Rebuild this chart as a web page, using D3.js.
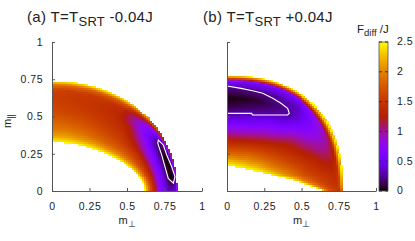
<!DOCTYPE html>
<meta charset="utf-8">
<html>
<head>
<title>F_diff maps</title>
<script src="https://cdnjs.cloudflare.com/ajax/libs/d3/7.8.5/d3.min.js"></script>
<style>
  body { margin: 0; background: #fff; }
  text { font-family: "Liberation Sans", Arial, sans-serif; fill: #222; }
</style>
</head>
<body>
<svg width="415" height="241"></svg>
<script>
var axisTicks = [0, 0.25, 0.5, 0.75, 1];
var cbTicks = [0, 0.5, 1, 1.5, 2, 2.5];

// edges of the coloured band: [half axis along m_perp, half axis along m_par, exponent]
var outerA = [0.835, 0.74, 2.1], innerA = [0.62, 0.331, 1.8];
var outerB = [0.775, 0.775, 2.4], innerB = [0.65, 0.175, 1.15];

// F_diff, rows = angle from the m_perp axis (deg),
// columns = relative depth across the band (0 inner edge, 1 outer edge)
var tNodes = [0, 0.1, 0.2, 0.35, 0.5, 0.65, 0.75, 0.85, 0.93, 1];

var phiA = [0, 6, 12, 18, 24, 30, 40, 50, 60, 75, 90];
var fA = [
  [2.5, 2.0, 1.6, 1.15, 0.7, 0.45, 0.32, 0.35, 0.4, 0.8],
  [2.5, 2.0, 1.6, 1.15, 0.7, 0.4, 0.16, 0.0, 0.12, 0.9],
  [2.5, 2.05, 1.65, 1.25, 0.8, 0.42, 0.16, 0.0, 0.1, 1.0],
  [2.5, 2.05, 1.7, 1.35, 0.9, 0.5, 0.22, 0.02, 0.15, 1.2],
  [2.5, 2.05, 1.75, 1.45, 1.05, 0.62, 0.36, 0.15, 0.28, 1.4],
  [2.5, 2.05, 1.8, 1.5, 1.2, 0.85, 0.6, 0.5, 0.7, 1.8],
  [2.5, 2.05, 1.8, 1.6, 1.45, 1.25, 1.0, 0.95, 1.3, 2.2],
  [2.5, 2.1, 1.85, 1.65, 1.5, 1.4, 1.35, 1.4, 1.7, 2.4],
  [2.5, 2.1, 1.9, 1.7, 1.55, 1.45, 1.45, 1.5, 1.8, 2.5],
  [2.5, 2.15, 1.95, 1.75, 1.6, 1.52, 1.5, 1.55, 1.85, 2.5],
  [2.5, 2.15, 1.95, 1.8, 1.65, 1.58, 1.55, 1.6, 1.9, 2.5]
];

var phiB = [0, 10, 20, 30, 40, 50, 60, 70, 80, 90];
var fB = [
  [2.5, 2.15, 1.95, 1.75, 1.6, 1.55, 1.5, 1.5, 1.75, 2.5],
  [2.5, 2.15, 1.9, 1.7, 1.55, 1.45, 1.4, 1.35, 1.5, 2.5],
  [2.5, 2.1, 1.9, 1.65, 1.45, 1.3, 1.15, 1.1, 1.25, 2.5],
  [2.5, 2.1, 1.85, 1.55, 1.3, 1.05, 0.9, 0.85, 1.0, 2.5],
  [2.5, 2.1, 1.8, 1.45, 1.15, 0.8, 0.6, 0.6, 0.8, 2.5],
  [2.5, 2.05, 1.75, 1.3, 0.85, 0.45, 0.3, 0.35, 0.55, 2.5],
  [2.5, 2.05, 1.7, 1.15, 0.7, 0.3, 0.18, 0.28, 0.55, 2.5],
  [2.5, 2.0, 1.65, 1.05, 0.55, 0.2, 0.08, 0.25, 0.55, 2.5],
  [2.5, 2.0, 1.6, 1.0, 0.5, 0.15, 0.04, 0.22, 0.55, 2.5],
  [2.5, 2.0, 1.6, 1.0, 0.45, 0.1, 0.02, 0.2, 0.55, 2.5]
];

// white contour lines
var lineA = [[0.709, 0.342], [0.742, 0.309], [0.765, 0.242], [0.798, 0.163], [0.82, 0.096],
             [0.809, 0.052], [0.775, 0.085], [0.753, 0.163], [0.731, 0.242], [0.705, 0.32]];
var lineB = [[0, 0.705], [0.094, 0.689], [0.172, 0.673], [0.24, 0.656], [0.307, 0.622],
             [0.362, 0.589], [0.407, 0.555], [0.418, 0.521], [0.407, 0.51], [0.172, 0.51],
             [0.165, 0.521], [0, 0.521]];

var svg = d3.select("svg");
var cbScale = d3.scaleLinear().domain([0, 2.5]).range([191, 42]);

function palette(v) {
    var x = Math.max(0, Math.min(1, v / 2.5));
    return d3.rgb(255 * Math.sqrt(x), 255 * x * x * x, 255 * Math.max(0, Math.sin(2 * Math.PI * x))) + "";
}

function edge(e, phi) {
    var c = Math.abs(Math.cos(phi)) / e[0], s = Math.abs(Math.sin(phi)) / e[1];
    return 1 / Math.pow(Math.pow(c, e[2]) + Math.pow(s, e[2]), 1 / e[2]);
}

function lookup(nodes, v) {
    var i = Math.min(nodes.length - 2, Math.max(0, d3.bisectRight(nodes, v) - 1));
    return [i, (v - nodes[i]) / (nodes[i + 1] - nodes[i])];
}

function field(table, phis, phiDeg, t) {
    var a = lookup(phis, phiDeg), b = lookup(tNodes, t);
    var i = a[0], u = a[1], j = b[0], w = b[1];
    var top = table[i][j] * (1 - w) + table[i][j + 1] * w;
    var bot = table[i + 1][j] * (1 - w) + table[i + 1][j + 1] * w;
    return top * (1 - u) + bot * u;
}

function cellsFor(inner, outer, table, phis) {
    var n = 75, step = 1 / n, out = [];
    for (var i = 0; i < n; i++) {
        for (var j = 0; j < n; j++) {
            var cx = (i + 0.5) * step, cy = (j + 0.5) * step;
            var phi = Math.atan2(cy, cx), r = Math.sqrt(cx * cx + cy * cy);
            var rin = edge(inner, phi), rout = edge(outer, phi);
            var t = (r - rin) / (rout - rin);
            if (t < 0 || t > 1) continue;
            out.push({x: i * step, y: (j + 1) * step, s: step, v: field(table, phis, phi * 180 / Math.PI, t)});
        }
    }
    return out;
}

function drawPanel(left, right, cells, line, closed, showY) {
    var x = d3.scaleLinear().domain([0, 1]).range([left, right]);
    var y = d3.scaleLinear().domain([0, 1]).range([191, 42]);
    var g = svg.append("g");

    g.append("g").selectAll("rect")
        .data(cells)
        .join("rect")
        .attr("x", function(d) { return x(d.x); })
        .attr("y", function(d) { return y(d.y); })
        .attr("width", function(d) { return x(d.s) - x(0) + 0.4; })
        .attr("height", function(d) { return y(0) - y(d.s) + 0.4; })
        .attr("fill", function(d) { return palette(d.v); })
        .attr("shape-rendering", "crispEdges");

    g.append("path")
        .datum(line)
        .attr("d", d3.line()
            .x(function(d) { return x(d[0]); })
            .y(function(d) { return y(d[1]); })
            .curve(closed ? d3.curveLinearClosed : d3.curveLinear))
        .attr("fill", "none")
        .attr("stroke", "#fff")
        .attr("stroke-width", 1.1);

    var ax = g.append("g").attr("transform", "translate(0,191)")
        .call(d3.axisBottom(x).tickValues(axisTicks).tickFormat(String)
            .tickSize(-3).tickSizeOuter(0).tickPadding(12));
    var ay = g.append("g").attr("transform", "translate(" + left + ",0)")
        .call(d3.axisLeft(y).tickValues(axisTicks).tickFormat(showY ? String : "")
            .tickSize(-3).tickSizeOuter(0).tickPadding(9));
    [ax, ay].forEach(function(a) {
        a.selectAll("path, line").attr("stroke", "#555");
        a.selectAll("text").style("font-size", "10.5px").style("letter-spacing", "0.5px").attr("fill", "#222");
    });

    var xl = g.append("text").attr("x", (left + right) / 2).attr("y", 224)
        .attr("text-anchor", "middle").style("font-size", "11px");
    xl.append("tspan").text("m");
    xl.append("tspan").attr("dy", 3).style("font-size", "9px").text("\u22a5");
    return g;
}

function title(x0, label, shift) {
    var t = svg.append("text").attr("x", x0).attr("y", 22)
        .style("font-size", "15px").style("letter-spacing", "0.3px");
    t.append("tspan").text(label + " T=T");
    t.append("tspan").attr("dy", 4).style("font-size", "13px").text("SRT");
    t.append("tspan").attr("dy", -4).text(" " + shift);
}

drawPanel(52, 202, cellsFor(innerA, outerA, fA, phiA), lineA, true, true);
drawPanel(227, 376, cellsFor(innerB, outerB, fB, phiB), lineB, false, false);

title(27, "(a)", "-0.04J");
title(203, "(b)", "+0.04J");

var yl = svg.append("text").attr("transform", "translate(11,121) rotate(-90)")
    .attr("text-anchor", "middle").style("font-size", "11px");
yl.append("tspan").text("m");
yl.append("tspan").attr("dy", 3).style("font-size", "9px").text("||");

// colour bar
var grad = svg.append("defs").append("linearGradient")
    .attr("id", "cb").attr("x1", 0).attr("y1", 1).attr("x2", 0).attr("y2", 0);
grad.selectAll("stop")
    .data(d3.range(0, 1.0001, 0.02))
    .join("stop")
    .attr("offset", function(d) { return d; })
    .attr("stop-color", function(d) { return palette(d * 2.5); });

svg.append("rect").attr("x", 379).attr("y", cbScale(2.5))
    .attr("width", 9).attr("height", cbScale(0) - cbScale(2.5))
    .attr("fill", "url(#cb)").attr("stroke", "#555").attr("stroke-width", 0.8);

var cbt = svg.append("g").selectAll("g").data(cbTicks).join("g");
cbt.append("line").attr("x1", 379).attr("x2", 382)
    .attr("y1", function(d) { return cbScale(d); }).attr("y2", function(d) { return cbScale(d); })
    .attr("stroke", "#333");
cbt.append("line").attr("x1", 385).attr("x2", 388)
    .attr("y1", function(d) { return cbScale(d); }).attr("y2", function(d) { return cbScale(d); })
    .attr("stroke", "#333");
cbt.append("text").attr("x", 397).attr("y", function(d) { return cbScale(d); })
    .attr("dy", "0.32em").style("font-size", "10.5px").style("letter-spacing", "0.5px")
    .text(String);

var cl = svg.append("text").attr("x", 357).attr("y", 33).style("font-size", "11.5px");
cl.append("tspan").text("F");
cl.append("tspan").attr("dy", 3).style("font-size", "9.5px").text("diff");
cl.append("tspan").attr("dy", -3).text(" /J");
</script>
</body>
</html>
